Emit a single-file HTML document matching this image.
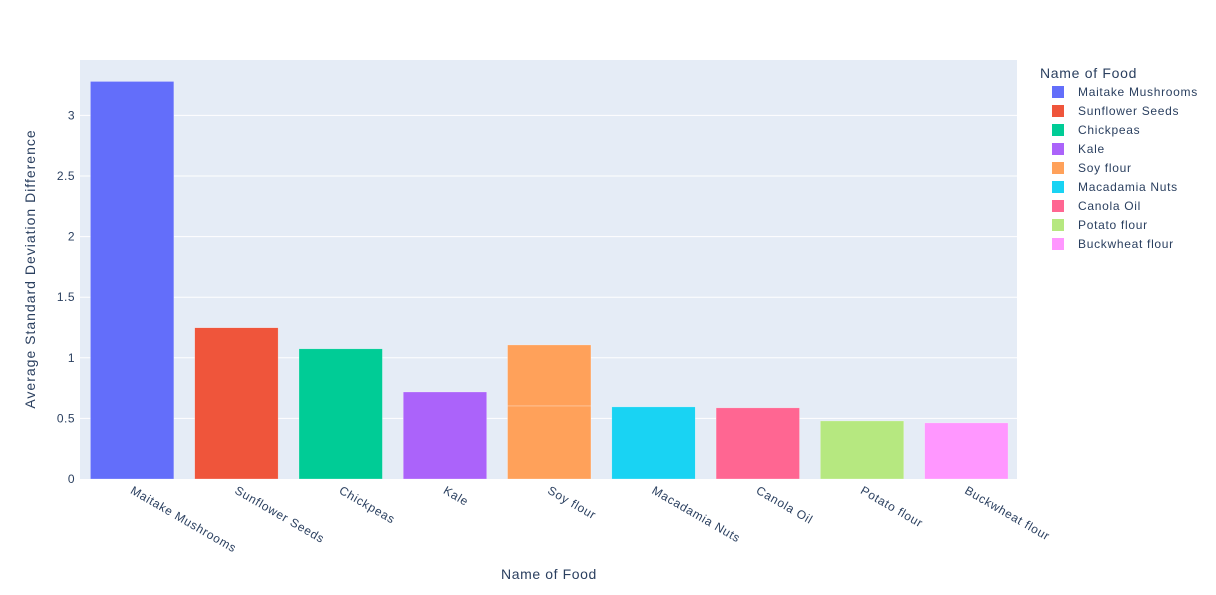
<!DOCTYPE html>
<html><head><meta charset="utf-8"><style>
body{margin:0;background:#fff;}
svg text{font-family:"Liberation Sans",Arial,sans-serif;fill:#2a3f5f;}
</style></head><body>
<svg id="chart" width="1216" height="590">
<rect x="80" y="60" width="937" height="419" fill="#e5ecf6"/>
<g id="grid"></g><g id="bars"></g><g id="ticks"></g><g id="legend"></g>
<text x="549" y="579" text-anchor="middle" font-size="14" letter-spacing="0.6">Name of Food</text>
<text transform="translate(35,269) rotate(-90)" text-anchor="middle" font-size="14" letter-spacing="1">Average Standard Deviation Difference</text>
</svg>
<script>
const categories=["Maitake Mushrooms","Sunflower Seeds","Chickpeas","Kale","Soy flour","Macadamia Nuts","Canola Oil","Potato flour","Buckwheat flour"];
const colors=["#636efa","#EF553B","#00cc96","#ab63fa","#FFA15A","#19d3f3","#FF6692","#B6E880","#FF97FF"];
// each category may have stacked segments
const segments=[[3.28],[1.248],[1.074],[0.718],[0.603,0.503],[0.595],[0.587],[0.479],[0.463]];
const yTicks=[0,0.5,1,1.5,2,2.5,3];
const yTickLabels=["0","0.5","1","1.5","2","2.5","3"];
const NS="http://www.w3.org/2000/svg";
const L=80,R=1018.5,T=60,B=479,yMax=3.457;
const y=v=>B-(v/yMax)*(B-T);
const bw=(R-L)/categories.length;
const xc=i=>L+bw*(i+0.5);
function mk(t,a,p){const e=document.createElementNS(NS,t);for(const k in a)e.setAttribute(k,a[k]);p.appendChild(e);return e;}
const grid=document.getElementById('grid'),bars=document.getElementById('bars'),ticks=document.getElementById('ticks'),leg=document.getElementById('legend');
yTicks.forEach((v,i)=>{
 if(v>0){const g=mk('line',{x1:L,x2:1017,y1:y(v),y2:y(v),stroke:'#fff','stroke-width':1},grid);
 
 }
 const t=mk('text',{x:L-5,y:y(v)+4,'text-anchor':'end','font-size':12,'letter-spacing':0.5},ticks);t.textContent=yTickLabels[i];
 
 
});
categories.forEach((c,i)=>{
 let base=0;
 segments[i].forEach(v=>{
  const r=mk('rect',{x:xc(i)-bw*0.4,width:bw*0.8,y:y(base+v),height:y(base)-y(base+v),fill:colors[i],stroke:'rgba(255,255,255,0.5)','stroke-width':0.5},bars);
  
  
  base+=v;
 });
 const t=mk('text',{transform:`translate(${xc(i)+2},485) rotate(30)`,x:0,y:9,'font-size':12,'letter-spacing':0.7},ticks);t.textContent=c;
 
 
 const ly=92+i*19;
 const s=mk('rect',{x:1052,y:ly-6,width:12,height:12,fill:colors[i]},leg);
 
 
 const lt=mk('text',{x:1078,y:ly+4,'font-size':12,'letter-spacing':0.7},leg);lt.textContent=c;
 
 
});
const tt=mk('text',{x:1040,y:78,'font-size':14,'letter-spacing':0.7},leg);tt.textContent="Name of Food";


</script>
</body></html>
